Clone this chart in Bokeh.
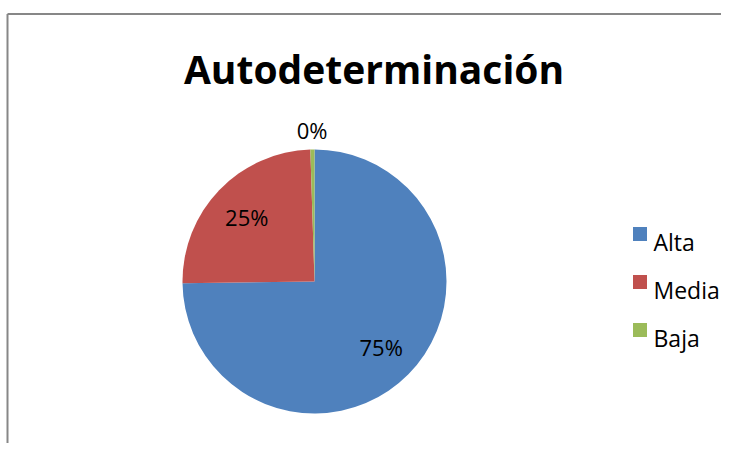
import math
from bokeh.plotting import figure
from bokeh.models import Range1d, ColumnDataSource
from bokeh.core.properties import value
from bokeh.embed import file_html
from bokeh.resources import INLINE

# ---- data ----
title_text = "Autodeterminación"
categories = ["Alta", "Media", "Baja"]
values = [74.8, 24.7, 0.5]
labels = ["75%", "25%", "0%"]
colors = ["#4F81BD", "#C0504D", "#9BBB59"]

W, H = 721, 443
p = figure(width=W, height=H, output_backend="svg", toolbar_location=None,
           x_range=Range1d(0, W), y_range=Range1d(0, H),
           min_border=0, outline_line_color=None, background_fill_color="white",
           border_fill_color="white")
p.axis.visible = False
p.grid.visible = False

def sy(screen_y):
    return H - screen_y

# chart border (top and left edges visible)
p.segment(x0=[7, 7], y0=[sy(13.5), sy(13.5)], x1=[W + 50, 7], y1=[sy(13.5), -50],
          line_color="#878787", line_width=2)

# pie
cx, cy, r = 314, sy(281), 132
total = sum(values)
starts, ends, mids = [], [], []
a = math.pi / 2
for v in values:
    da = v / total * 2 * math.pi
    starts.append(a)
    ends.append(a - da)
    mids.append(a - da / 2)
    a -= da

src = ColumnDataSource(dict(start=starts, end=ends, color=colors))
p.wedge(x=cx, y=cy, radius=r, radius_units="screen", start_angle="start",
        end_angle="end", direction="clock", fill_color="color",
        line_color=None, source=src)

# data labels
lx, ly = [], []
for v, m in zip(values, mids):
    rr = 0.71 * r if v / total > 0.05 else 1.15 * r
    lx.append(cx + rr * math.cos(m))
    ly.append(cy + rr * math.sin(m))
p.text(x=lx, y=ly, text=labels, text_font=value("Open Sans"),
       text_font_size="22px", text_align="center", text_baseline="middle",
       text_color="black")

# title
p.text(x=[373.5], y=[sy(68)], text=[title_text], text_font=value("Open Sans"),
       text_font_style="bold", text_font_size="39px", text_align="center",
       text_baseline="alphabetic", text_color="black")

# legend
leg_y = [sy(233.5 + 48 * i) for i in range(len(categories))]
p.rect(x=[639.5] * len(categories), y=leg_y, width=14, height=14,
       width_units="screen", height_units="screen",
       fill_color=colors, line_color=None)
p.text(x=[653] * len(categories), y=[y - 7.5 for y in leg_y], text=categories,
       text_font=value("Open Sans"), text_font_size="23px",
       text_align="left", text_baseline="alphabetic", text_color="black")

open("out.html", "w").write(file_html(p, INLINE))
